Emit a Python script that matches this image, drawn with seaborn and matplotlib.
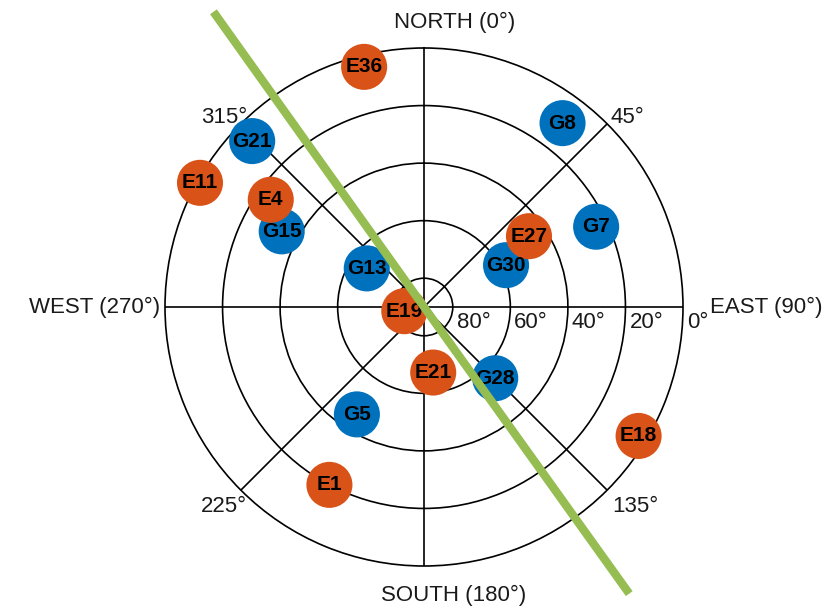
import numpy as np
import pandas as pd
import matplotlib
matplotlib.use("Agg")
import matplotlib.pyplot as plt
import seaborn as sns

# Satellites in view: name, constellation, azimuth (deg), elevation (deg)
sat_names = ["G8", "G7", "G30", "E27", "G28", "E18", "E21", "E1",
             "G5", "E19", "G13", "G15", "E4", "E11", "G21", "E36"]
constellation = ["GPS", "GPS", "GPS", "Galileo", "GPS", "Galileo", "Galileo", "Galileo",
                 "GPS", "Galileo", "GPS", "GPS", "Galileo", "Galileo", "GPS", "Galileo"]
azimuth = [37, 65, 63, 56, 135, 121, 172, 208,
           212, 258, 304, 298, 305, 299, 314, 346]
elevation = [10, 24, 58, 46, 55, 3, 67, 20,
             46, 83, 66, 34, 25, 1, 7, 4]

# Obstruction edge (a straight wall seen from the receiver)
wall_azimuth = [324.5, 144.4]
wall_elevation = [-36.0, -32.5]

elev_rings = [80, 60, 40, 20, 0]
bearing_ticks = [45, 135, 225, 315]
cardinal_labels = ["NORTH (0°)", "EAST (90°)", "SOUTH (180°)", "WEST (270°)"]

palette = {"GPS": "#0072BD", "Galileo": "#D95319"}
wall_color = "#95BD52"

sns.set_theme(style="white")
plt.rcParams["font.family"] = ["Liberation Sans", "DejaVu Sans"]

W, H = 838, 610
fig = plt.figure(figsize=(W / 100, H / 100), dpi=100)
cx, cy, R = 424, 307, 259
ax = fig.add_axes([(cx - R) / W, (H - cy - R) / H, 2 * R / W, 2 * R / H],
                  projection="polar")
ax.set_theta_zero_location("N")
ax.set_theta_direction(-1)
ax.set_rlim(0, 90)
ax.set_facecolor("white")

# Grid: elevation rings and bearing spokes
ax.set_rgrids([90 - e for e in elev_rings[:-1]], labels=[""] * 4)
ax.set_thetagrids(np.arange(0, 360, 45), labels=[""] * 8)
ax.grid(True, color="black", linewidth=1.2)
ax.spines["polar"].set_color("black")
ax.spines["polar"].set_linewidth(1.2)
ax.tick_params(pad=0)

df = pd.DataFrame({
    "name": sat_names,
    "system": constellation,
    "theta": np.deg2rad(azimuth),
    "zenith": 90 - np.asarray(elevation, dtype=float),
})

sns.scatterplot(data=df, x="theta", y="zenith", hue="system", palette=palette,
                s=1100, linewidth=0, legend=False, ax=ax, zorder=3, clip_on=False)
ax.set_xlabel("")
ax.set_ylabel("")

for _, row in df.iterrows():
    ax.text(row["theta"], row["zenith"], row["name"], ha="center", va="center",
            fontsize=15, fontweight="bold", color="black", zorder=4)

# Obstruction line through the receiver position
wall_theta = [np.deg2rad(wall_azimuth[0]), 0.0, np.deg2rad(wall_azimuth[1])]
wall_r = [90 - wall_elevation[0], 0.0, 90 - wall_elevation[1]]
ax.plot(wall_theta, wall_r, color=wall_color, linewidth=6, solid_capstyle="butt",
        clip_on=False, zorder=5)


def label(x, y, s, ha="center", va="center"):
    fig.text(x / W, 1 - y / H, s, ha=ha, va=va, fontsize=16, color="#1a1a1a")


# Cardinal directions
label(455, 22, cardinal_labels[0])
label(710, 307, cardinal_labels[1], ha="left")
label(454, 595, cardinal_labels[2])
label(160, 307, cardinal_labels[3], ha="right")

# Intercardinal bearings
label(610, 117, f"{bearing_ticks[0]}°", ha="left")
label(612, 507, f"{bearing_ticks[1]}°", ha="left")
label(247, 507, f"{bearing_ticks[2]}°", ha="right")
label(247, 117, f"{bearing_ticks[3]}°", ha="right")

# Elevation ring labels along the east spoke
for e in elev_rings:
    px = cx + (90 - e) / 90 * R
    label(px + 4, 323, f"{e}°", ha="left")

fig.savefig("out.png", dpi=100, facecolor="white")
